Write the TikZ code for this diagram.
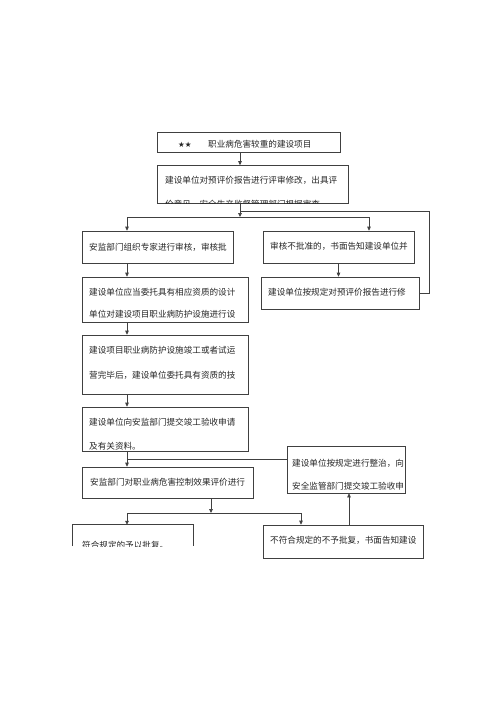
\documentclass[tikz,border=0pt]{standalone}
\usepackage{fontspec}
\newfontfamily\cjk{Noto Sans CJK SC}
\newfontfamily\sym{DejaVu Sans}
\usetikzlibrary{arrows.meta}
\begin{document}
\begin{tikzpicture}[x=1pt,y=-1pt,
  box/.style={draw=black!75,line width=0.7pt,inner sep=0pt},
  txt/.style={anchor=west,inner sep=0pt,font=\cjk\fontsize{8.6}{10}\selectfont,text=black!85},
  conn/.style={draw=black!75,line width=0.7pt},
  arr/.style={conn,-{Triangle[length=4pt,width=3.6pt]}}]
\fill[white] (0,0) rectangle (500,707);
\useasboundingbox (0,0) rectangle (500,707);
% boxes
\node[box,minimum width=183pt,minimum height=20pt] (top) at (248.5,142) {};
\node[box,minimum width=191pt,minimum height=38pt] (b2) at (252.5,184.5) {};
\node[box,minimum width=151pt,minimum height=32pt] (A) at (157.5,247) {};
\node[box,minimum width=166pt,minimum height=45pt] (B) at (165,299.5) {};
\node[box,minimum width=166pt,minimum height=59pt] (C) at (165,364.5) {};
\node[box,minimum width=166pt,minimum height=44pt] (D) at (165,429) {};
\node[box,minimum width=151pt,minimum height=32pt] (R1) at (338.5,247) {};
\node[box,minimum width=158pt,minimum height=32pt] (R2) at (340,293) {};
\node[box,minimum width=171pt,minimum height=31pt] (E) at (167.5,482.5) {};
\node[box,minimum width=118pt,minimum height=47pt] (R3) at (346,469.5) {};
\node[box,minimum width=160pt,minimum height=33pt] (G) at (343,541.5) {};
\node[inner sep=0pt,minimum width=120pt,minimum height=21pt] (F) at (133,535.5) {};
\draw[conn] (F.south west) |- (F.north east) -- (F.south east);
% texts
\begin{scope}
\clip (158,133) rectangle (339,147);
\node[txt,font=\sym\fontsize{7.5}{8}\selectfont] (t0s) at (178,145) {★★};
\node[txt] (t0) at (208,144.5) {职业病危害较重的建设项目};
\end{scope}
\node[txt] (t1) at (165,180) {建设单位对预评价报告进行评审修改，出具评};
\begin{scope}
\clip (158,190) rectangle (347,203.5);
\node[txt] (t1b) at (165,204.5) {价意见，安全生产监督管理部门根据审查};
\end{scope}
\node[txt] (tA) at (89,247) {安监部门组织专家进行审核，审核批};
\node[txt] (tB1) at (89,292) {建设单位应当委托具有相应资质的设计};
\node[txt] (tB2) at (89,314) {单位对建设项目职业病防护设施进行设};
\node[txt] (tC1) at (89,350) {建设项目职业病防护设施竣工或者试运};
\node[txt] (tC2) at (89,375) {营完毕后，建设单位委托具有资质的技};
\node[txt] (tD1) at (89,422) {建设单位向安监部门提交竣工验收申请};
\node[txt] (tD2) at (89,446) {及有关资料。};
\node[txt] (tR1) at (270,246.5) {审核不批准的，书面告知建设单位并};
\node[txt] (tR2) at (268,292) {建设单位按规定对预评价报告进行修};
\node[txt] (tE) at (90,482) {安监部门对职业病危害控制效果评价进行};
\node[txt] (tR31) at (292,463) {建设单位按规定进行整治，向};
\node[txt] (tR32) at (292,486) {安全监管部门提交竣工验收申};
\node[txt] (tG) at (270,540.5) {不符合规定的不予批复，书面告知建设};
\begin{scope}
\clip (74,526) rectangle (192,546.5);
\node[txt] (tF) at (82,545) {符合规定的予以批复。};
\end{scope}
% coordinates
\coordinate (s1) at (240,217);
\coordinate (cl) at (127,217);
\coordinate (cr) at (369,217);
\coordinate (fb) at (429,211);
\coordinate (jn) at (127,459);
\coordinate (s2) at (211,513);
\coordinate (gx) at (301,513);
\coordinate (rx) at (349,513);
% connectors
\draw[arr] (top.south -| s1) -- (b2.north -| s1);
\draw[arr] (b2.south -| s1) -- (s1);
\draw[conn] (R2.east) -| (fb) -- (fb -| s1);
\draw[arr] (s1) -| (A.north -| cl);
\draw[arr] (s1) -| (R1.north -| cr);
\draw[arr] (A.south -| cl) -- (B.north -| cl);
\draw[arr] (B.south -| cl) -- (C.north -| cl);
\draw[arr] (C.south -| cl) -- (D.north -| cl);
\draw[arr] (R1.south) -- (R1.south |- R2.north);
\draw[arr] (D.south -| cl) -- (E.north -| cl);
\draw[conn] (R3.west |- jn) -- (jn);
\draw[arr] (E.south -| s2) -- (s2);
\draw[arr] (s2) -| (F.north -| cl);
\draw[arr] (s2) -| (G.north -| gx);
\draw[arr] (G.north -| rx) -- (R3.south -| rx);
\end{tikzpicture}
\end{document}
